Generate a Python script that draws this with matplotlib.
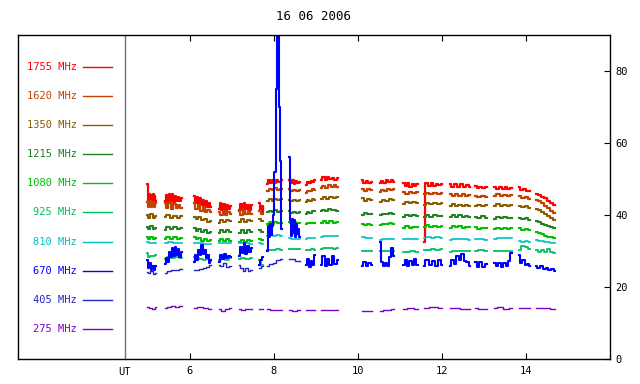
import numpy as np
import matplotlib
matplotlib.use("Agg")
from matplotlib import pyplot as plt

plt.rcParams['font.family'] = ['DejaVu Sans Mono']
plt.rcParams['font.size'] = 7.5

title = "16 06 2006"

# observation intervals (UT hours)
seg_start = [4.98, 5.40, 6.10, 6.69, 7.17, 7.64, 7.84, 8.36, 8.76, 9.12,
             10.10, 10.52, 11.08, 11.57, 12.19, 12.79, 13.25, 13.83, 14.24]
seg_end = [5.19, 5.80, 6.50, 6.97, 7.47, 7.75, 8.18, 8.62, 8.98, 9.52,
           10.33, 10.86, 11.42, 12.01, 12.67, 13.06, 13.66, 14.10, 14.69]

f1755 = [
    [48.7, 43.8, 45.8, 43.5, 45.6, 43.6, 45.9, 43.9, 45.2, 44.0],
    [43.8, 45.6, 43.6, 45.9, 43.9, 45.7, 43.5, 45.4, 43.8, 45.1, 43.9, 44.8],
    [45.2, 43.4, 45.0, 43.0, 44.6, 42.7, 44.2, 42.4, 43.8, 42.2, 43.4, 42.3],
    [41.6, 43.2, 41.4, 43.0, 41.5, 42.9, 41.6, 42.6],
    [41.5, 43.0, 41.3, 43.2, 41.6, 42.9, 41.4, 42.7],
    [43.3, 41.2, 42.5, 40.8],
    [48.6, 49.6, 48.9, 49.8, 49.0, 49.7, 49.2, 49.8],
    [49.8, 49.0, 49.6, 48.7, 49.4, 48.8, 49.2],
    [48.4, 49.1, 48.8, 49.5, 49.2, 49.7],
    [49.6, 50.5, 49.7, 50.6, 49.9, 50.4, 49.8, 50.3],
    [49.6, 48.8, 49.5, 48.9, 49.3],
    [48.8, 49.5, 48.9, 49.6, 49.1, 49.7, 49.2],
    [48.9, 48.0, 48.8, 47.9, 48.6, 48.0, 48.6],
    [32.5, 48.9, 48.0, 48.8, 48.1, 48.7, 48.2, 48.6],
    [48.5, 47.8, 48.6, 47.9, 48.6, 47.9, 48.4, 47.8],
    [48.0, 47.4, 47.9, 47.5, 47.8],
    [47.8, 47.2, 47.9, 47.3, 47.8, 47.2, 47.6],
    [47.8, 46.9, 47.2, 46.6, 46.8],
    [45.8, 45.5, 45.0, 44.6, 44.0, 43.4, 42.8],
]
f1620 = [
    [43.6, 42.2, 43.9, 42.1, 43.5, 42.3, 43.2],
    [43.4, 41.9, 43.2, 41.8, 43.0, 41.9, 42.9, 42.0],
    [43.2, 41.8, 42.7, 41.2, 42.1, 40.7, 41.5, 40.8],
    [40.9, 39.9, 41.1, 40.0, 40.9, 40.2],
    [41.1, 40.0, 41.3, 40.2, 41.0, 40.3],
    [41.0, 40.2],
    [46.6, 47.3, 46.9, 47.5, 47.0, 47.3],
    [47.1, 46.6, 47.0, 46.6, 46.9],
    [46.1, 46.6, 46.7, 47.1, 47.0],
    [47.4, 48.1, 47.6, 48.3, 47.8, 48.2, 47.9],
    [47.3, 46.8, 47.2, 46.9],
    [46.4, 47.0, 46.8, 47.2, 47.0, 47.3],
    [46.4, 45.9, 46.4, 46.0, 46.3],
    [45.9, 46.2, 45.7, 46.1, 45.8, 46.0],
    [45.7, 45.2, 45.8, 45.3, 45.7, 45.2, 45.5],
    [45.4, 44.9, 45.3, 45.0],
    [45.3, 45.7, 45.2, 45.6, 45.3, 45.5],
    [45.2, 44.7, 45.0, 44.5],
    [44.3, 43.8, 43.2, 42.5, 41.9, 41.2, 40.5],
]
f1350 = [
    [39.9, 39.2, 40.2, 39.3, 39.8],
    [39.5, 40.0, 39.1, 39.8, 39.2, 39.6],
    [39.5, 38.8, 39.4, 38.5, 38.9, 38.1, 38.4],
    [37.9, 38.7, 38.0, 38.6, 38.2],
    [38.1, 38.8, 38.0, 38.6, 38.2],
    [38.8, 38.2],
    [43.9, 44.4, 44.0, 44.5, 44.2, 44.4],
    [44.3, 43.9, 44.2, 43.9, 44.1],
    [43.7, 44.1, 44.0, 44.4, 44.2],
    [44.4, 44.9, 44.5, 45.0, 44.7, 45.1],
    [44.6, 44.0, 44.4, 44.1],
    [43.7, 44.2, 44.0, 44.4, 44.2],
    [43.1, 43.6, 43.2, 43.6, 43.4],
    [42.9, 43.4, 43.0, 43.4, 43.1, 43.3],
    [42.5, 43.0, 42.5, 42.9, 42.6, 42.8, 42.4],
    [42.4, 42.9, 42.5, 42.7],
    [42.6, 43.0, 42.5, 42.9, 42.6, 42.8],
    [42.6, 42.1, 42.4, 41.9],
    [41.7, 41.3, 40.8, 40.3, 39.7, 39.2, 38.7],
]
f1215 = [
    [36.7, 36.0, 36.9, 36.1, 36.5],
    [35.9, 36.8, 36.0, 36.7, 36.0, 36.4],
    [36.3, 35.6, 36.2, 35.3, 35.8, 35.0, 35.4],
    [35.0, 35.9, 35.2, 35.8, 35.4],
    [35.0, 35.8, 35.1, 35.7, 35.3],
    [35.8, 35.3],
    [40.7, 41.2, 40.8, 41.3, 40.9, 41.1],
    [41.0, 40.6, 40.9, 40.5, 40.7],
    [40.3, 40.8, 40.6, 41.1, 41.0],
    [41.0, 41.5, 41.1, 41.7, 41.3, 41.5, 41.2],
    [40.0, 40.6, 40.2, 40.4],
    [39.9, 40.4, 40.2, 40.6, 40.4],
    [39.5, 40.0, 39.6, 39.9, 39.7],
    [39.4, 39.9, 39.5, 40.0, 39.6, 39.8],
    [39.4, 39.9, 39.5, 40.0, 39.5, 39.7, 39.4],
    [39.5, 39.2, 39.6, 39.3],
    [39.0, 39.4, 39.1, 39.5, 39.1, 39.3],
    [39.3, 38.8, 39.1, 38.7],
    [38.2, 38.0, 37.6, 37.3, 37.0, 36.6, 36.3],
]
f1080 = [
    [33.9, 33.2, 34.0, 33.3, 33.7],
    [33.4, 34.0, 33.3, 33.9, 33.4, 33.7],
    [33.9, 33.2, 33.7, 32.9, 33.3, 32.7, 33.0],
    [32.7, 33.4, 32.8, 33.2, 32.9],
    [32.5, 33.1, 32.6, 33.0, 32.7],
    [33.4, 33.0],
    [37.5, 38.0, 37.6, 38.1, 37.7, 37.9],
    [38.1, 37.7, 38.0, 37.8, 37.9],
    [37.5, 37.9, 37.7, 37.9, 37.8],
    [37.7, 38.2, 37.8, 38.3, 37.9, 38.1],
    [37.5, 37.1, 37.5, 37.3],
    [37.2, 37.6, 37.4, 37.8, 37.6],
    [36.4, 36.9, 36.5, 36.8, 36.6],
    [36.7, 37.1, 36.7, 37.0, 36.7, 36.9],
    [36.5, 37.0, 36.6, 36.9, 36.5, 36.8, 36.6],
    [36.6, 36.2, 36.5, 36.3],
    [36.1, 36.5, 36.1, 36.4, 36.2, 36.3],
    [36.3, 35.8, 36.1, 35.7],
    [35.4, 35.0, 34.7, 34.3, 34.0, 33.8, 33.6],
]
f925 = [
    [29.5, 28.3, 28.6, 28.5, 29.0],
    [27.8, 28.2, 28.0, 28.3, 28.1],
    [28.3, 28.0, 27.9, 27.6, 27.8, 27.3],
    [27.4, 27.8, 27.6, 28.0],
    [27.7, 28.0, 27.9, 28.1],
    [27.5, 26.0],
    [30.2, 30.4, 30.3, 30.5, 30.4],
    [30.6, 30.5, 30.6, 30.6],
    [30.3, 30.4, 30.5, 30.4],
    [30.6, 30.7, 30.8, 30.7, 30.6, 30.7],
    [30.0, 30.1, 30.1],
    [29.9, 30.0, 30.0, 30.1],
    [29.7, 29.8, 29.9, 29.8],
    [30.2, 30.4, 30.5, 30.4, 30.6],
    [29.8, 30.0, 29.9, 30.1, 30.0, 29.9],
    [30.0, 30.2, 30.1],
    [30.0, 30.1, 30.1, 30.0, 30.1],
    [30.3, 31.5, 31.2, 30.5],
    [30.3, 29.6, 30.4, 29.8, 30.5, 29.7, 29.4],
]
f810 = [
    [32.4, 32.2, 32.3],
    [32.3, 32.4, 32.2, 32.3],
    [32.3, 32.1, 32.0, 31.9],
    [32.3, 32.2, 32.3],
    [32.2, 32.1, 32.0],
    [32.2, 32.0],
    [34.2, 34.4, 34.3, 34.5, 34.3],
    [33.5, 33.3, 33.4, 33.3],
    [33.3, 33.6, 33.7, 33.7],
    [34.0, 34.1, 34.2, 34.1, 34.2, 34.1],
    [33.9, 33.7, 33.6],
    [33.1, 33.2, 33.3, 33.3],
    [33.2, 33.3, 33.2, 33.3],
    [33.7, 33.8, 33.7, 33.8, 33.7],
    [33.1, 33.3, 33.2, 33.3, 33.2, 33.1],
    [33.2, 33.4, 33.1],
    [33.4, 33.5, 33.5, 33.6, 33.5],
    [32.9, 32.6, 32.8, 32.6],
    [33.1, 32.9, 32.8, 32.6, 32.5, 32.3, 32.2],
]
f670 = [
    [27.5, 25.2, 26.8, 24.6, 25.9, 24.8, 25.8],
    [26.5, 28.0, 27.0, 29.6, 28.2, 30.8, 28.6, 31.2, 29.0, 30.6, 28.4, 29.8],
    [27.0, 28.8, 27.6, 30.2, 29.0, 31.6, 29.2, 30.4, 28.0, 28.8, 26.8, 27.4],
    [27.0, 28.9, 27.8, 29.2, 28.0, 28.7, 28.2],
    [28.5, 31.2, 29.4, 32.2, 29.2, 31.4, 29.6, 30.8],
    [26.0, 27.5, 28.2],
    [30.0, 37.0, 33.8, 37.6, 34.4, 37.0, 40.0, 52.0, 75.0, 95.0, 92.0, 70.0, 55.0, 36.0],
    [56.0, 38.5, 34.2, 39.0, 35.0, 38.6, 34.0, 37.4, 34.8, 36.2, 34.0],
    [26.0, 27.8, 25.6, 27.2, 26.0, 29.0],
    [26.2, 28.6, 25.9, 27.8, 26.1, 28.5, 26.3, 27.6],
    [25.8, 27.0, 25.9, 26.8, 26.1],
    [32.5, 27.0, 25.7, 26.8, 25.9, 28.4, 30.8, 28.5],
    [26.1, 27.6, 25.9, 27.2, 26.0, 27.7, 26.1],
    [25.9, 27.4, 26.0, 27.2, 25.9, 27.5, 26.2],
    [25.9, 27.5, 26.3, 28.7, 27.4, 29.2, 27.2, 26.9, 25.8],
    [27.0, 25.6, 26.9, 25.5, 26.3],
    [26.6, 25.7, 26.8, 25.6, 26.6, 25.9, 27.2, 29.5],
    [28.8, 26.8, 27.6, 26.0, 26.3, 25.7],
    [25.8, 25.2, 25.7, 24.9, 25.3, 24.6, 24.9, 24.4],
]
f405 = [
    [24.3, 23.9, 24.4, 23.6, 24.0],
    [23.8, 24.4, 24.8, 24.6, 25.1],
    [24.6, 24.8, 25.0, 25.2, 25.6, 26.0],
    [26.2, 25.9, 26.6, 25.6, 25.9],
    [26.0, 25.4, 24.4, 25.2, 24.5, 24.6],
    [25.3, 25.9],
    [25.8, 26.3, 26.7, 27.5, 27.8],
    [27.9, 27.7, 27.3, 27.2],
    [], [], [], [], [], [], [], [], [], [], [],
]
f275 = [
    [14.4, 14.2, 14.0, 14.4],
    [14.2, 14.5, 14.6, 14.5, 14.7],
    [14.3, 14.4, 14.1, 14.0],
    [14.0, 13.4, 13.9, 14.1],
    [13.9, 13.5, 13.9, 13.9],
    [13.8, 13.8],
    [13.8, 13.6, 13.5, 13.5],
    [13.5, 13.4, 13.5],
    [13.5, 13.5],
    [13.7, 13.7, 13.6, 13.7],
    [13.4, 13.4],
    [13.4, 13.7, 13.9],
    [14.0, 14.1, 14.0],
    [14.3, 14.4, 14.3],
    [14.3, 14.1, 13.9, 14.0],
    [14.2, 13.9, 14.0],
    [14.1, 14.4, 14.0, 14.3],
    [14.1, 14.2],
    [14.2, 14.1, 13.9],
]

labels = ["1755 MHz", "1620 MHz", "1350 MHz", "1215 MHz", "1080 MHz",
          "925 MHz", "810 MHz", "670 MHz", "405 MHz", "275 MHz"]
series = [f1755, f1620, f1350, f1215, f1080, f925, f810, f670, f405, f275]
colors = ['#ff0000', '#c04400', '#8a5c00', '#238023', '#00c000',
          '#00c060', '#00c0c0', '#0000ff', '#2424c0', '#7c00c8']
widths = [1.6, 1.6, 1.5, 1.5, 1.5, 1.3, 1.2, 1.5, 1.0, 1.0]

fig = plt.figure(figsize=(6.4, 3.84), dpi=100)
ax = fig.add_axes([18/640, 1 - 359/384, 592/640, 324/384])

for vals_all, c, lw in zip(series, colors, widths):
    for s, e, vals in zip(seg_start, seg_end, vals_all):
        if len(vals) == 0:
            continue
        t = np.linspace(s, e, len(vals))
        ax.plot(t, vals, color=c, lw=lw, drawstyle='steps-mid')

# legend column on the left
for i, (lab, c) in enumerate(zip(labels, colors)):
    yy = 81.2 - 8.1 * i
    ax.text(3.30, yy, lab, color=c, ha='right', va='center')
    ax.plot([3.45, 4.14], [yy, yy], color=c, lw=1)

ax.axvline(4.45, color='#707070', lw=1)
ax.text(4.45, -2.2, "UT", ha='center', va='top')

ax.set_xlim(1.905, 16.0)
ax.set_ylim(0, 90)
ax.set_xticks([6, 8, 10, 12, 14])
ax.set_yticks([0, 20, 40, 60, 80])
ax.tick_params(axis='x', direction='in', top=True, bottom=True, length=4, pad=5)
ax.tick_params(axis='y', direction='in', left=False, right=True,
               labelleft=False, labelright=True, length=4, pad=4)
for sp in ax.spines.values():
    sp.set_linewidth(1)
ax.set_title(title, pad=11)

fig.savefig("out.png", dpi=100)
